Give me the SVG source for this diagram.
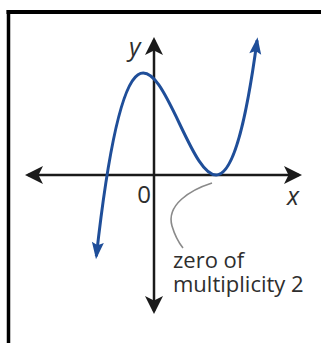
<svg xmlns="http://www.w3.org/2000/svg" width="321" height="343" viewBox="0 0 321 343">
  <style>
    .frame { stroke: #000; fill: none; }
    .axis { stroke: #1a1a1a; stroke-width: 2.5; fill: none; }
    .curve { stroke: #1f4e99; stroke-width: 3; fill: none; stroke-linecap: butt; }
    .leader { stroke: #8a8a8a; stroke-width: 1.6; fill: none; }
    .lbl { font-family: "Open Sans", "Noto Sans", "Liberation Sans", sans-serif; fill: #2e2e2e; }
    .var { font-style: italic; font-size: 25px; }
  </style>
  <defs>
    <marker id="axisHead" markerUnits="userSpaceOnUse" viewBox="-20 -10 22 20" markerWidth="22" markerHeight="20" refX="-3" refY="0" orient="auto">
      <path d="M0,0 L-18,-9 L-13.5,0 L-18,9 Z" fill="#1a1a1a"/>
    </marker>
    <marker id="curveHead" markerUnits="userSpaceOnUse" viewBox="-18 -8 20 16" markerWidth="20" markerHeight="16" refX="-3" refY="0" orient="auto-start-reverse">
      <path d="M0,0 L-17,-6 L-14,0 L-17,6 Z" fill="#1f4e99"/>
    </marker>
  </defs>

  <g id="frame">
    <line class="frame" x1="6.5" y1="12" x2="321" y2="12" stroke-width="4"/>
    <line class="frame" x1="8.5" y1="10" x2="8.5" y2="343" stroke-width="3.5"/>
  </g>

  <g id="axes">
    <line id="x-axis" class="axis" x1="154" y1="175" x2="28" y2="175" marker-end="url(#axisHead)"/>
    <line class="axis" x1="154" y1="175" x2="299" y2="175" marker-end="url(#axisHead)"/>
    <line id="y-axis" class="axis" x1="154" y1="175" x2="154" y2="40" marker-end="url(#axisHead)"/>
    <line class="axis" x1="154" y1="175" x2="154" y2="311" marker-end="url(#axisHead)"/>
  </g>

  <g id="curve">
    <path class="curve" d="M96.33,256.25 C149.92,-224.56 203.51,439.86 257.1,40.19" marker-start="url(#curveHead)" marker-end="url(#curveHead)"/>
  </g>

  <g id="annotation">
    <path class="leader" d="M212,183 C190,190 166,205 172,226 C175,236 179,243 183,248"/>
    <text class="lbl" x="173" y="268" font-size="22"><tspan x="173" y="268">zero of</tspan><tspan x="173" y="292">multiplicity 2</tspan></text>
  </g>

  <g id="labels">
    <text class="lbl var" x="129" y="56">y</text>
    <text class="lbl var" x="287" y="205">x</text>
    <text class="lbl" x="144" y="203" font-size="24" text-anchor="middle">0</text>
  </g>
</svg>
